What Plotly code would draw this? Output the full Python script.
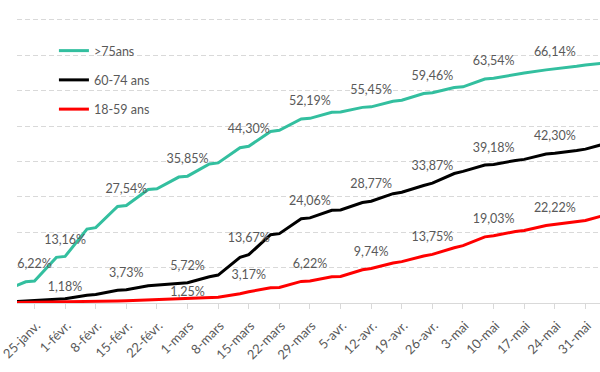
import plotly.graph_objects as go

# ---- data -------------------------------------------------------------
dates = ["2021-01-18", "2021-01-23", "2021-01-25", "2021-01-30", "2021-02-01",
         "2021-02-06", "2021-02-08", "2021-02-13", "2021-02-15", "2021-02-20",
         "2021-02-22", "2021-02-27", "2021-03-01", "2021-03-06", "2021-03-08",
         "2021-03-13", "2021-03-15", "2021-03-20", "2021-03-22", "2021-03-27",
         "2021-03-29", "2021-04-03", "2021-04-05", "2021-04-10", "2021-04-12",
         "2021-04-17", "2021-04-19", "2021-04-24", "2021-04-26", "2021-05-01",
         "2021-05-03", "2021-05-08", "2021-05-10", "2021-05-15", "2021-05-17",
         "2021-05-22", "2021-05-24", "2021-05-29", "2021-05-31", "2021-06-05",
         "2021-06-07"]

over75 = [3.5, 6.0, 6.22, 12.9, 13.16, 20.9, 21.3, 27.3, 27.54, 32.1,
          32.3, 35.6, 35.85, 39.3, 39.6, 43.9, 44.30, 48.5, 48.8, 52.0,
          52.19, 53.9, 54.0, 55.3, 55.45, 57.0, 57.3, 59.2, 59.46, 60.9,
          61.1, 63.3, 63.54, 64.7, 65.0, 65.9, 66.14, 66.9, 67.3, 68.0,
          68.21]

age60_74 = [0.2, 0.5, 0.6, 1.1, 1.18, 2.2, 2.4, 3.6, 3.73, 4.9,
            5.1, 5.6, 5.72, 7.4, 7.9, 12.9, 13.67, 19.3, 19.6, 23.8,
            24.06, 26.2, 26.3, 28.4, 28.77, 30.9, 31.3, 33.2, 33.87, 36.6,
            37.2, 39.0, 39.18, 40.3, 40.6, 42.1, 42.30, 43.1, 43.5, 45.2,
            45.62]

age18_59 = [0.05, 0.12, 0.15, 0.25, 0.3, 0.4, 0.45, 0.6, 0.65, 0.85,
            0.9, 1.2, 1.25, 1.5, 1.6, 2.6, 3.17, 4.3, 4.4, 6.1,
            6.22, 7.4, 7.5, 9.4, 9.74, 11.3, 11.7, 13.3, 13.75, 15.6,
            16.2, 18.7, 19.03, 20.2, 20.5, 21.9, 22.22, 22.9, 23.3, 25.0,
            25.43]

series_names = [">75ans", "60-74 ans", "18-59 ans"]

labels_over75 = ["2021-01-25", "2021-02-01", "2021-02-15", "2021-03-01", "2021-03-15",
                 "2021-03-29", "2021-04-12", "2021-04-26", "2021-05-10", "2021-05-24",
                 "2021-06-07"]
labels_60_74 = ["2021-02-01", "2021-02-15", "2021-03-01", "2021-03-15", "2021-03-29",
                "2021-04-12", "2021-04-26", "2021-05-10", "2021-05-24", "2021-06-07"]
labels_18_59 = ["2021-03-01", "2021-03-15", "2021-03-29", "2021-04-12", "2021-04-26",
                "2021-05-10", "2021-05-24", "2021-06-07"]

tick_dates = ["2021-01-25", "2021-02-01", "2021-02-08", "2021-02-15", "2021-02-22",
              "2021-03-01", "2021-03-08", "2021-03-15", "2021-03-22", "2021-03-29",
              "2021-04-05", "2021-04-12", "2021-04-19", "2021-04-26", "2021-05-03",
              "2021-05-10", "2021-05-17", "2021-05-24", "2021-05-31", "2021-06-07"]
tick_labels = ["25-janv.", "1-févr.", "8-févr.", "15-févr.", "22-févr.",
               "1-mars", "8-mars", "15-mars", "22-mars", "29-mars",
               "5-avr.", "12-avr.", "19-avr.", "26-avr.", "3-mai",
               "10-mai", "17-mai", "24-mai", "31-mai", "7-juin"]

# ---- style --------------------------------------------------------------
W, H = 600, 372
M_L, M_R, M_T, M_B = 0, 0, 0, 69
Y_RANGE = [0, 85.65]
X_RANGE = ["2021-01-21", "2021-06-03 08:00"]
FONT = "Lato"
TXT = "#595959"
GRID = "#d9d9d9"
colors = ["#33bf9f", "#000000", "#ff0000"]
px_per_unit = (H - M_T - M_B) / (Y_RANGE[1] - Y_RANGE[0])
default_shift = 16
shift_overrides = {(1, "2021-02-01"): 11, (2, "2021-03-01"): 6}
bold_last = {0}

fig = go.Figure()
all_series = [over75, age60_74, age18_59]
all_labels = [labels_over75, labels_60_74, labels_18_59]

for i, (name, vals, col) in enumerate(zip(series_names, all_series, colors)):
    fig.add_trace(go.Scatter(
        x=dates, y=vals, mode="lines", name=name,
        line=dict(color=col, width=3), legendgroup=name,
        cliponaxis=True, hoverinfo="skip"))

for i, (vals, labs) in enumerate(zip(all_series, all_labels)):
    lx, ly, lt = [], [], []
    for k, d in enumerate(labs):
        v = vals[dates.index(d)]
        s = shift_overrides.get((i, d), default_shift)
        txt = f"{v:.2f}".replace(".", ",") + "%"
        if i in bold_last and k == len(labs) - 1:
            txt = "<b>" + txt + "</b>"
        lx.append(d)
        ly.append(v + s / px_per_unit)
        lt.append(txt)
    fig.add_trace(go.Scatter(
        x=lx, y=ly, mode="text", text=lt, textposition="middle center",
        textfont=dict(family=FONT, size=12.5, color=TXT),
        showlegend=False, cliponaxis=False, hoverinfo="skip"))

fig.update_layout(
    width=W, height=H,
    margin=dict(l=M_L, r=M_R, t=M_T, b=M_B, pad=0),
    paper_bgcolor="white", plot_bgcolor="white",
    font=dict(family=FONT, color=TXT, size=12),
    showlegend=True,
    legend=dict(x=38 / W, xanchor="left", y=1 - 36 / (H - M_T - M_B), yanchor="top",
                bgcolor="rgba(0,0,0,0)", font=dict(family=FONT, size=12.5, color=TXT),
                tracegroupgap=10, itemwidth=30),
    xaxis=dict(type="date", range=X_RANGE, showgrid=False,
               showline=True, linecolor=GRID, linewidth=1,
               ticks="outside", ticklen=5, tickcolor=GRID,
               tickvals=tick_dates, ticktext=tick_labels, tickangle=-45,
               ticklabeloverflow="allow", ticklabelstandoff=4, ticklabelshift=2,
               tickfont=dict(family=FONT, size=13, color=TXT), zeroline=False),
    yaxis=dict(range=Y_RANGE, dtick=10, showgrid=True, gridcolor=GRID,
               griddash="5px,3px", gridwidth=1, showticklabels=False,
               zeroline=False, ticks=""),
)

fig.write_html("out.html", config={"displayModeBar": False},
               post_script="document.body.style.margin='0';document.body.style.padding='0';")
